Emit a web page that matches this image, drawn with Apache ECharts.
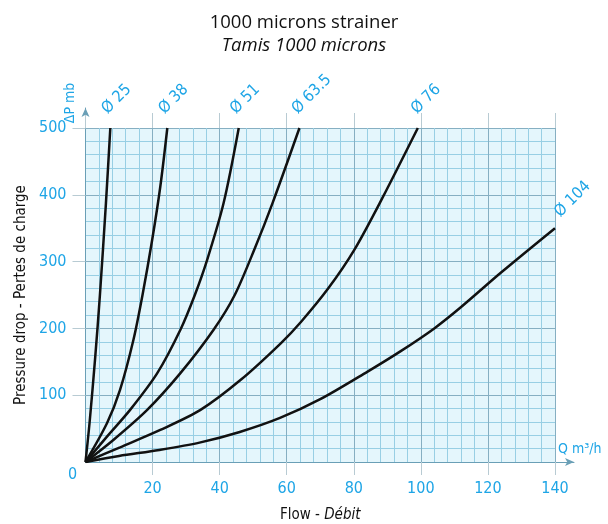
<!DOCTYPE html>
<html>
<head>
<meta charset="utf-8">
<script src="https://cdn.jsdelivr.net/npm/echarts@6/dist/echarts.min.js"></script>
<style>html,body{margin:0;padding:0;background:#fff;overflow:hidden}#c{width:608px;height:524px}</style>
</head>
<body>
<div id="c"></div>
<script>
// Curve names
const curveNames = ['Ø 25', 'Ø 38', 'Ø 51', 'Ø 63.5', 'Ø 76', 'Ø 104'];
// Flow (m3/h) and pressure drop (mb)
const q25 = [0, 1.2, 2.9, 4.3, 6.1, 7.4];
const p25 = [0, 58, 157, 250, 388, 500];
const q38 = [0, 6.4, 10.3, 14.3, 17.0, 19.9, 22.3, 24.4];
const p38 = [0, 58, 108, 183, 250, 333, 412, 500];
const q51 = [0, 6.4, 13.3, 21.4, 28.3, 32.6, 36.3, 41.2, 45.7];
const p51 = [0, 38, 78, 133, 198, 250, 303, 388, 500];
const q635 = [0, 8.3, 18.4, 28.3, 38.2, 44.5, 50.5, 55.8, 63.8];
const p635 = [0, 33, 78, 133, 198, 250, 320, 388, 500];
const q76 = [0, 10.3, 22.3, 34.3, 46.3, 58.3, 64.3, 72.4, 80.2, 88.5, 99.1];
const p76 = [0, 22, 48, 78, 123, 178, 210, 260, 318, 395, 500];
const q104 = [0, 10, 22, 34, 46, 58, 70, 84, 94, 104, 112, 124, 140];
const p104 = [0, 9, 18, 29, 45, 66, 94, 135, 166, 200, 232, 284, 350];
// Axis ticks
const xTicks = [0, 20, 40, 60, 80, 100, 120, 140];
const yTicks = [0, 100, 200, 300, 400, 500];

const curves = [[q25, p25], [q38, p38], [q51, p51], [q635, p635], [q76, p76], [q104, p104]];
const CYAN = '#1ea5e6';
const NARROW = '"Liberation Sans Narrow","DejaVu Sans Condensed",sans-serif';

// screen offset of rotated curve labels (px), converted to the label's rotated frame
function rotOffset(sx, sy) {
  const c = Math.SQRT1_2;
  const dy = (sx + sy) / (2 * c);
  const dx = (sx - sy) / (2 * c);
  return [dx, dy];
}
const labelShift = [[0, -11], [0, -11], [0, -11], [1, -11], [2, -11], [8, -8]];

const series = curves.map((c, i) => {
  const n = c[0].length;
  return {
    type: 'line',
    name: curveNames[i],
    xAxisIndex: 0, yAxisIndex: 0,
    data: c[0].map((q, k) => [q, c[1][k]]),
    smooth: 0.3,
    showSymbol: false,
    lineStyle: { color: '#111', width: 2.5 },
    markPoint: {
      symbol: 'circle', symbolSize: 0, silent: true,
      itemStyle: { color: 'rgba(0,0,0,0)' },
      label: {
        show: true,
        formatter: curveNames[i],
        position: 'inside',
        rotate: 45,
        color: CYAN,
        fontFamily: NARROW,
        fontSize: 16,
        align: 'left',
        verticalAlign: 'bottom',
        offset: rotOffset(labelShift[i][0], labelShift[i][1])
      },
      data: [{ coord: [c[0][n - 1], c[1][n - 1]] }]
    },
    animation: false,
    z: 5
  };
});

const chart = echarts.init(document.getElementById('c'), null, { renderer: 'canvas' });
chart.setOption({
  animation: false,
  title: {
    text: '1000 microns strainer',
    subtext: 'Tamis 1000 microns',
    left: 'center', top: 8, itemGap: 4,
    textStyle: { fontFamily: '"Open Sans",sans-serif', fontWeight: 'normal', fontSize: 18.5, color: '#111' },
    subtextStyle: { fontFamily: '"Open Sans",sans-serif', fontStyle: 'italic', fontSize: 18.5, color: '#111' }
  },
  grid: [
    { left: 85.5, right: 53, top: 128, bottom: 62, show: true, backgroundColor: '#e4f6fc', borderWidth: 0, outerBoundsMode: 'none', containLabel: false },
    { left: 85.5, right: 34, top: 108, bottom: 62, show: false, outerBoundsMode: 'none', containLabel: false }
  ],
  xAxis: [
    {
      type: 'value', gridIndex: 0, min: xTicks[0], max: xTicks[xTicks.length - 1], interval: 20,
      axisLine: { show: true, lineStyle: { color: '#86b9cf', width: 1 } },
      axisTick: { show: true, inside: false, length: 13, lineStyle: { color: '#b8cbd3' } },
      axisLabel: { showMinLabel: false, margin: 19, color: CYAN, fontFamily: NARROW, fontSize: 16 },
      splitLine: { show: true, lineStyle: { color: '#86afc2', width: 1 } },
      minorTick: { show: false, splitNumber: 5 },
      minorSplitLine: { show: true, lineStyle: { color: '#98cfe4', width: 1 } },
      name: '{a|Flow - }{b|Débit}',
      nameLocation: 'middle', nameGap: 46,
      nameTextStyle: {
        rich: {
          a: { fontFamily: NARROW, fontSize: 15, color: '#111' },
          b: { fontFamily: NARROW, fontSize: 15, color: '#111', fontStyle: 'italic' }
        }
      }
    },
    {
      type: 'value', gridIndex: 0, position: 'top', min: xTicks[0], max: xTicks[xTicks.length - 1], interval: 20,
      axisLine: { show: false },
      axisTick: { show: true, inside: false, length: 15, lineStyle: { color: '#b8cbd3' } },
      axisLabel: { show: false }, splitLine: { show: false }
    },
    {
      type: 'value', gridIndex: 1, min: 0, max: 1,
      axisLine: { show: true, symbol: ['none', 'arrow'], symbolSize: [6, 9], lineStyle: { color: '#6a9fb6', width: 1 } },
      axisTick: { show: false }, axisLabel: { show: false }, splitLine: { show: false }
    }
  ],
  yAxis: [
    {
      type: 'value', gridIndex: 0, min: yTicks[0], max: yTicks[yTicks.length - 1], interval: 100,
      axisLine: { show: true, lineStyle: { color: '#86b9cf', width: 1 } },
      axisTick: { show: true, inside: false, length: 13, lineStyle: { color: '#b8cbd3' } },
      axisLabel: { showMinLabel: false, margin: 19, color: CYAN, fontFamily: NARROW, fontSize: 16 },
      splitLine: { show: true, lineStyle: { color: '#86afc2', width: 1 } },
      minorTick: { show: false, splitNumber: 5 },
      minorSplitLine: { show: true, lineStyle: { color: '#98cfe4', width: 1 } },
      name: 'Pressure drop - Pertes de charge',
      nameLocation: 'middle', nameGap: 53, nameRotate: 90,
      nameTextStyle: { fontFamily: NARROW, fontSize: 15, color: '#111' }
    },
    {
      type: 'value', gridIndex: 1, min: 0, max: 1,
      axisLine: { show: true, symbol: ['none', 'arrow'], symbolSize: [6, 9], lineStyle: { color: '#6a9fb6', width: 1 } },
      axisTick: { show: false }, axisLabel: { show: false }, splitLine: { show: false }
    }
  ],
  graphic: [
    { type: 'text', left: 68, top: 467, style: { text: '0', fill: CYAN, font: '16px ' + NARROW } },
    { type: 'text', x: 77, y: 103, rotation: Math.PI / 2, style: { text: 'ΔP mb', fill: CYAN, font: '14px ' + NARROW, align: 'center', verticalAlign: 'bottom' } },
    { type: 'text', left: 558, top: 442, style: { text: 'Q m³/h', fill: CYAN, font: '14px ' + NARROW } }
  ],
  series: series
});
</script>
</body>
</html>
